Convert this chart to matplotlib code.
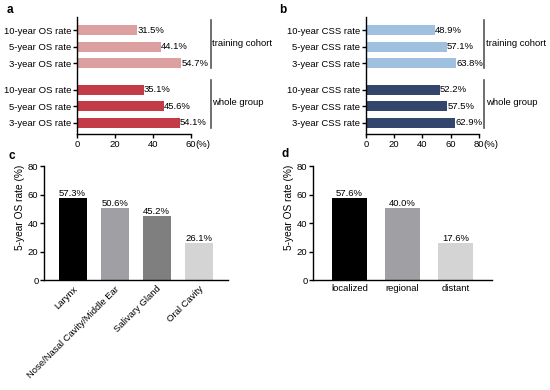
import matplotlib.pyplot as plt
import matplotlib.transforms as mtransforms
from matplotlib import font_manager

# panel a / b data
os_labels = ['10-year OS rate', '5-year OS rate', '3-year OS rate']
css_labels = ['10-year CSS rate', '5-year CSS rate', '3-year CSS rate']
os_training = [31.5, 44.1, 54.7]
os_whole = [35.1, 45.6, 54.1]
css_training = [48.9, 57.1, 63.8]
css_whole = [52.2, 57.5, 62.9]
groups = ['training cohort', 'whole group']

# panel c data
sites = ['Larynx', 'Nose/Nasal Cavity/Middle Ear', 'Salivary Gland', 'Oral Cavity']
site_os = [57.3, 50.6, 45.2, 26.1]

# panel d data (bar heights as drawn, labels as printed)
stages = ['localized', 'regional', 'distant']
stage_height = [57.3, 50.6, 26.1]
stage_text = ['57.6%', '40.0%', '17.6%']

names = {f.name for f in font_manager.fontManager.ttflist}
if 'Liberation Sans Narrow' in names:
    FAM = 'Liberation Sans Narrow'
    FS = 8
else:
    FAM = 'Liberation Sans'
    FS = 6.8

plt.rcParams['font.family'] = FAM
plt.rcParams['font.size'] = FS
plt.rcParams['axes.linewidth'] = 1.0

fig = plt.figure(figsize=(5.5, 3.9), dpi=100)

pos = [0, 1, 2, 3.6, 4.6, 5.6]


def hbar_panel(rect, labels, train, whole, c_light, c_dark, xmax, bracket_x):
    ax = fig.add_axes(rect)
    vals = train + whole
    cols = [c_light] * 3 + [c_dark] * 3
    ax.barh(pos, vals, height=0.6, color=cols)
    for p, v in zip(pos, vals):
        ax.text(v + 0.2, p, '%.1f%%' % v, va='center', ha='left')
    ax.set_yticks(pos)
    ax.set_yticklabels(labels + labels)
    ax.set_ylim(6.3, -0.8)
    ax.set_xlim(0, xmax)
    ax.set_xticks(range(0, xmax + 1, 20))
    ax.tick_params(length=3, width=1, labelsize=FS, pad=1)
    ax.annotate('(%)', xy=(1, 0), xycoords='axes fraction', xytext=(3.0, -4.2),
                textcoords='offset points', ha='left', va='top')
    for s in ['top', 'right']:
        ax.spines[s].set_visible(False)
    trans = mtransforms.blended_transform_factory(ax.transAxes, ax.transData)
    for g, (a, b) in zip(groups, [(pos[0], pos[2]), (pos[3], pos[5])]):
        ax.plot([bracket_x, bracket_x], [a - 0.6, b + 0.3], color='#555555',
                lw=1.2, transform=trans, clip_on=False)
        ax.text(bracket_x + 0.015, (a + b) / 2 - 0.2, g, transform=trans, va='center',
                ha='left')
    return ax


hbar_panel([0.14, 0.656, 0.207, 0.30], os_labels, os_training, os_whole,
           '#dba09f', '#c23b47', 60, 1.175)
hbar_panel([0.665, 0.656, 0.206, 0.30], css_labels, css_training, css_whole,
           '#9fc0df', '#34466d', 80, 1.045)

# panel c
axc = fig.add_axes([0.08, 0.282, 0.335, 0.292])
axc.bar(range(4), site_os, width=0.67, color=['#000000', '#a0a0a4', '#7f7f7f', '#d4d4d4'])
for i, v in enumerate(site_os):
    axc.text(i, v, '%.1f%%' % v, ha='center', va='bottom')
axc.set_xlim(-0.68, 3.7)
axc.set_ylim(0, 80)
axc.set_yticks([0, 20, 40, 60, 80])
axc.set_xticks(range(4))
axc.set_xticklabels(sites, rotation=45, ha='right', rotation_mode='anchor')
axc.tick_params(axis='x', length=0, pad=3)
axc.tick_params(axis='y', length=3, width=1, labelsize=FS, pad=1)
axc.set_ylabel('5-year OS rate (%)', fontsize=FS + 0.5)
axc.yaxis.set_label_coords(-0.105, 0.64)
for s in ['top', 'right']:
    axc.spines[s].set_visible(False)

# panel d
axd = fig.add_axes([0.569, 0.282, 0.326, 0.292])
axd.bar(range(3), stage_height, width=0.66, color=['#000000', '#a0a0a4', '#d4d4d4'])
for i, (h, t) in enumerate(zip(stage_height, stage_text)):
    axd.text(i, h, t, ha='center', va='bottom')
axd.set_xlim(-0.69, 2.69)
axd.set_ylim(0, 80)
axd.set_yticks([0, 20, 40, 60, 80])
axd.set_xticks(range(3))
axd.set_xticklabels(stages)
axd.tick_params(axis='x', length=0, pad=3)
axd.tick_params(axis='y', length=3, width=1, labelsize=FS, pad=1)
axd.set_ylabel('5-year OS rate (%)', fontsize=FS + 0.5)
axd.yaxis.set_label_coords(-0.105, 0.64)
for s in ['top', 'right']:
    axd.spines[s].set_visible(False)

# panel letters
for x, y, t in [(0.012, 0.975, 'a'), (0.508, 0.975, 'b'), (0.015, 0.6, 'c'), (0.512, 0.605, 'd')]:
    fig.text(x, y, t, fontsize=8.5, fontweight='bold', va='center', family='Liberation Sans')

fig.savefig('out.png', dpi=100)
